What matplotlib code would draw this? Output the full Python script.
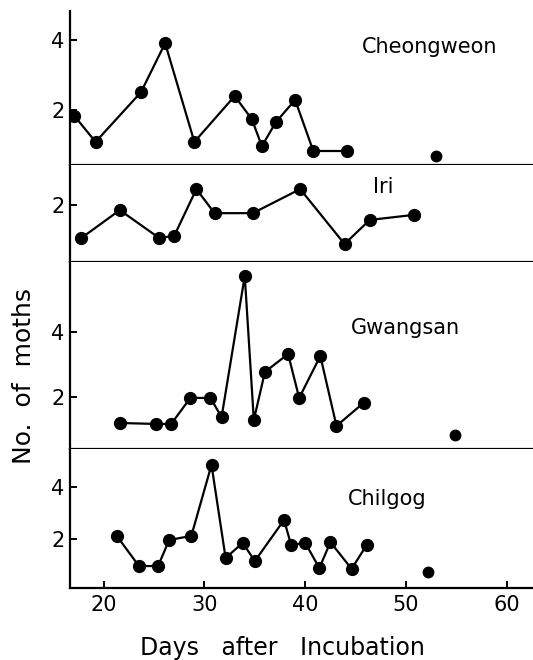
import matplotlib
matplotlib.use("Agg")
import matplotlib.pyplot as plt

# ---- data (days after incubation, no. of moths) ----
cheong_days = [17.1, 19.2, 23.7, 26.1, 29.0, 33.0, 34.7, 35.7, 37.1, 39.0, 40.8, 44.1]
cheong_vals = [1.83, 1.09, 2.51, 3.91, 1.09, 2.40, 1.74, 0.97, 1.66, 2.29, 0.83, 0.83]
cheong_extra_days = [53.0]
cheong_extra_vals = [0.69]

iri_days = [17.8, 21.6, 25.5, 27.0, 29.2, 31.0, 34.8, 39.5, 43.9, 46.4, 50.8]
iri_vals = [1.03, 1.85, 1.03, 1.09, 2.47, 1.76, 1.76, 2.47, 0.85, 1.56, 1.71]

gwang_days = [21.6, 25.2, 26.7, 28.6, 30.6, 31.7, 34.0, 34.9, 36.0, 38.3, 39.4, 41.5, 43.1, 45.8]
gwang_vals = [1.20, 1.17, 1.17, 1.97, 1.97, 1.38, 5.72, 1.29, 2.77, 3.32, 1.97, 3.26, 1.11, 1.82]
gwang_extra_days = [54.9]
gwang_extra_vals = [0.83]

chil_days = [21.3, 23.5, 25.4, 26.5, 28.7, 30.7, 32.1, 33.8, 35.0, 37.9, 38.6, 40.0, 41.4, 42.5, 44.6, 46.1]
chil_vals = [2.12, 0.96, 0.96, 1.96, 2.12, 4.85, 1.27, 1.85, 1.15, 2.73, 1.77, 1.85, 0.88, 1.88, 0.85, 1.77]
chil_extra_days = [52.2]
chil_extra_vals = [0.73]

site_names = ["Cheongweon", "Iri", "Gwangsan", "Chilgog"]
x_ticks = [20, 30, 40, 50, 60]

# ---- figure ----
W, H = 533, 660
fig = plt.figure(figsize=(W / 100, H / 100), dpi=100)
plt.rcParams['font.family'] = ['DejaVu Sans']

left_px = 70
xlim = (16.66, 62.6)

def add_panel(top_px, bot_px, ylim):
    ax = fig.add_axes([left_px / W, 1 - bot_px / H, 1 - left_px / W, (bot_px - top_px) / H])
    ax.set_xlim(*xlim)
    ax.set_ylim(*ylim)
    for s in ["top", "right"]:
        ax.spines[s].set_visible(False)
    for s in ["left", "bottom"]:
        ax.spines[s].set_linewidth(1.6)
        ax.spines[s].set_color("black")
    ax.tick_params(axis="y", direction="in", length=5, width=1.4, labelsize=15, pad=4)
    ax.tick_params(axis="x", direction="in", length=5, width=1.4, labelsize=15, pad=5)
    return ax

panels = [
    (11, 165, (0.43, 4.83), [2, 4], cheong_days, cheong_vals, cheong_extra_days, cheong_extra_vals, (430, 47)),
    (165, 262, (0.32, 3.18), [2], iri_days, iri_vals, [], [], (383, 187)),
    (262, 449, (0.40, 6.15), [2, 4], gwang_days, gwang_vals, gwang_extra_days, gwang_extra_vals, (405, 328)),
    (449, 588, (0.115, 5.46), [2, 4], chil_days, chil_vals, chil_extra_days, chil_extra_vals, (387, 499)),
]

for i, (t, b, yl, yt, xd, yd, xe, ye, lab) in enumerate(panels):
    ax = add_panel(t, b, yl)
    ax.set_yticks(yt)
    ax.set_yticklabels([str(v) for v in yt])
    ax.plot(xd, yd, color="black", lw=1.6, marker="o", ms=8.5, mfc="black", mec="black")
    if xe:
        ax.plot(xe, ye, ls="none", marker="o", ms=7.5, color="black")
    if i < 3:
        ax.set_xticks([])
    else:
        ax.set_xticks(x_ticks)
        ax.set_xticklabels([str(v) for v in x_ticks])
    fig.text(lab[0] / W, 1 - lab[1] / H, site_names[i], ha="center", va="center", fontsize=15)

fig.text(282 / W, 1 - 648 / H, "Days   after   Incubation", ha="center", va="center", fontsize=17)
fig.text(24 / W, 1 - 376 / H, "No.  of  moths", ha="center", va="center", rotation=90, fontsize=18)

fig.savefig("out.png", dpi=100)
